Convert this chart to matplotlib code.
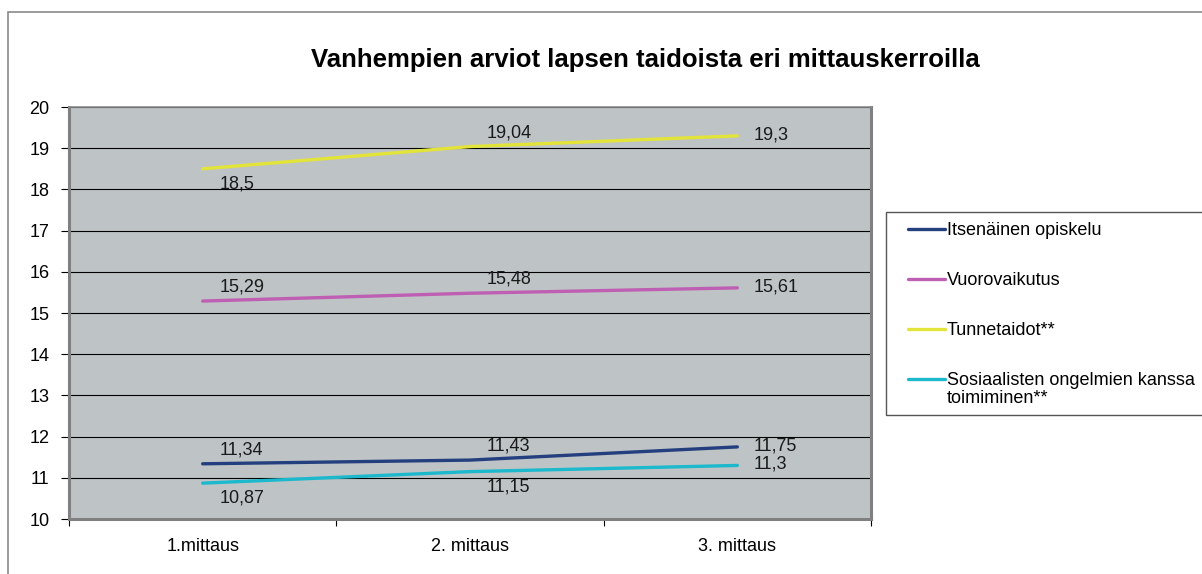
import matplotlib
matplotlib.use("Agg")
import matplotlib.pyplot as plt
from matplotlib.patches import Rectangle
from matplotlib.lines import Line2D

plt.rcParams["font.family"] = ["Liberation Sans", "DejaVu Sans"]

# data
categories = ["1.mittaus", "2. mittaus", "3. mittaus"]
series_names = [
    "Itsenäinen opiskelu",
    "Vuorovaikutus",
    "Tunnetaidot**",
    "Sosiaalisten ongelmien kanssa\ntoimiminen**",
]
itsenainen = [11.34, 11.43, 11.75]
vuorovaikutus = [15.29, 15.48, 15.61]
tunnetaidot = [18.5, 19.04, 19.3]
sosiaaliset = [10.87, 11.15, 11.3]

colors = ["#243F7E", "#BF5FB3", "#E3E43A", "#1CB8CC"]
# label placement per point: "a" above, "b" below, "r" right
placements = [
    ["a", "a", "r"],
    ["a", "a", "r"],
    ["b", "a", "r"],
    ["b", "b", "r"],
]

fig = plt.figure(figsize=(12.02, 5.74), dpi=100)
W, H = 1202, 574


def fx(px):
    return px / W


def fy(py):
    return 1 - py / H


# outer chart border
fig.patches.append(Rectangle((fx(8), -0.1), 1.2, fy(12) + 0.1,
                             transform=fig.transFigure, fill=False,
                             edgecolor="#8a8a8a", linewidth=1.2))

ax = fig.add_axes([fx(69), fy(519), (871 - 69) / W, (519 - 107) / H])
ax.set_facecolor("#BEC3C6")

x = list(range(len(categories)))
all_series = [itsenainen, vuorovaikutus, tunnetaidot, sosiaaliset]
for vals, name, col, plc in zip(all_series, series_names, colors, placements):
    ax.plot(x, vals, color=col, linewidth=2.4, solid_capstyle="round", label=name, zorder=3)
    for xi, v, p in zip(x, vals, plc):
        txt = f"{v:g}".replace(".", ",")
        if p == "a":
            off = (17, 14)
        elif p == "b":
            off = (17, -15)
        else:
            off = (16, 1)
        ax.annotate(txt, (xi, v), xytext=off, textcoords="offset pixels",
                    ha="left", va="center", fontsize=13, color="#1a1a1a", zorder=4)

ax.set_xlim(-0.5, 2.5)
ax.set_ylim(10, 20)
ax.set_yticks(range(10, 21))
ax.yaxis.grid(True, color="#000000", linewidth=0.8)
ax.set_axisbelow(True)

ax.set_xticks(x)
ax.set_xticklabels(categories)
ax.set_xticks([-0.5, 0.5, 1.5, 2.5], minor=True)
ax.tick_params(axis="x", which="major", length=0, pad=14, labelsize=13)
ax.tick_params(axis="x", which="minor", length=5, width=0.8, direction="out")
ax.tick_params(axis="y", length=6, width=0.8, direction="out", pad=8, labelsize=13)

for side in ["left", "bottom", "right"]:
    ax.spines[side].set_color("#808080")
    ax.spines[side].set_linewidth(2.2)
ax.spines["top"].set_color("#8c8c8c")
ax.spines["top"].set_linewidth(1.2)

fig.text(fx(645), fy(60), "Vanhempien arviot lapsen taidoista eri mittauskerroilla",
         ha="center", va="center", fontsize=18.5, fontweight="bold")

# legend drawn by hand to match the box layout
fig.patches.append(Rectangle((fx(886), fy(415)), 0.5, (415 - 212) / H,
                             transform=fig.transFigure, fill=False,
                             edgecolor="#555555", linewidth=1.0))
entry_y = [229, 279, 329, 379]
for name, col, ey in zip(series_names, colors, entry_y):
    fig.lines.append(Line2D([fx(908), fx(945)], [fy(ey), fy(ey)],
                            transform=fig.transFigure, color=col,
                            linewidth=2.4, solid_capstyle="round"))
    fig.text(fx(947), fy(ey - 7), name, ha="left", va="top", fontsize=13,
             linespacing=1.05)

fig.savefig("out.png", dpi=100)
